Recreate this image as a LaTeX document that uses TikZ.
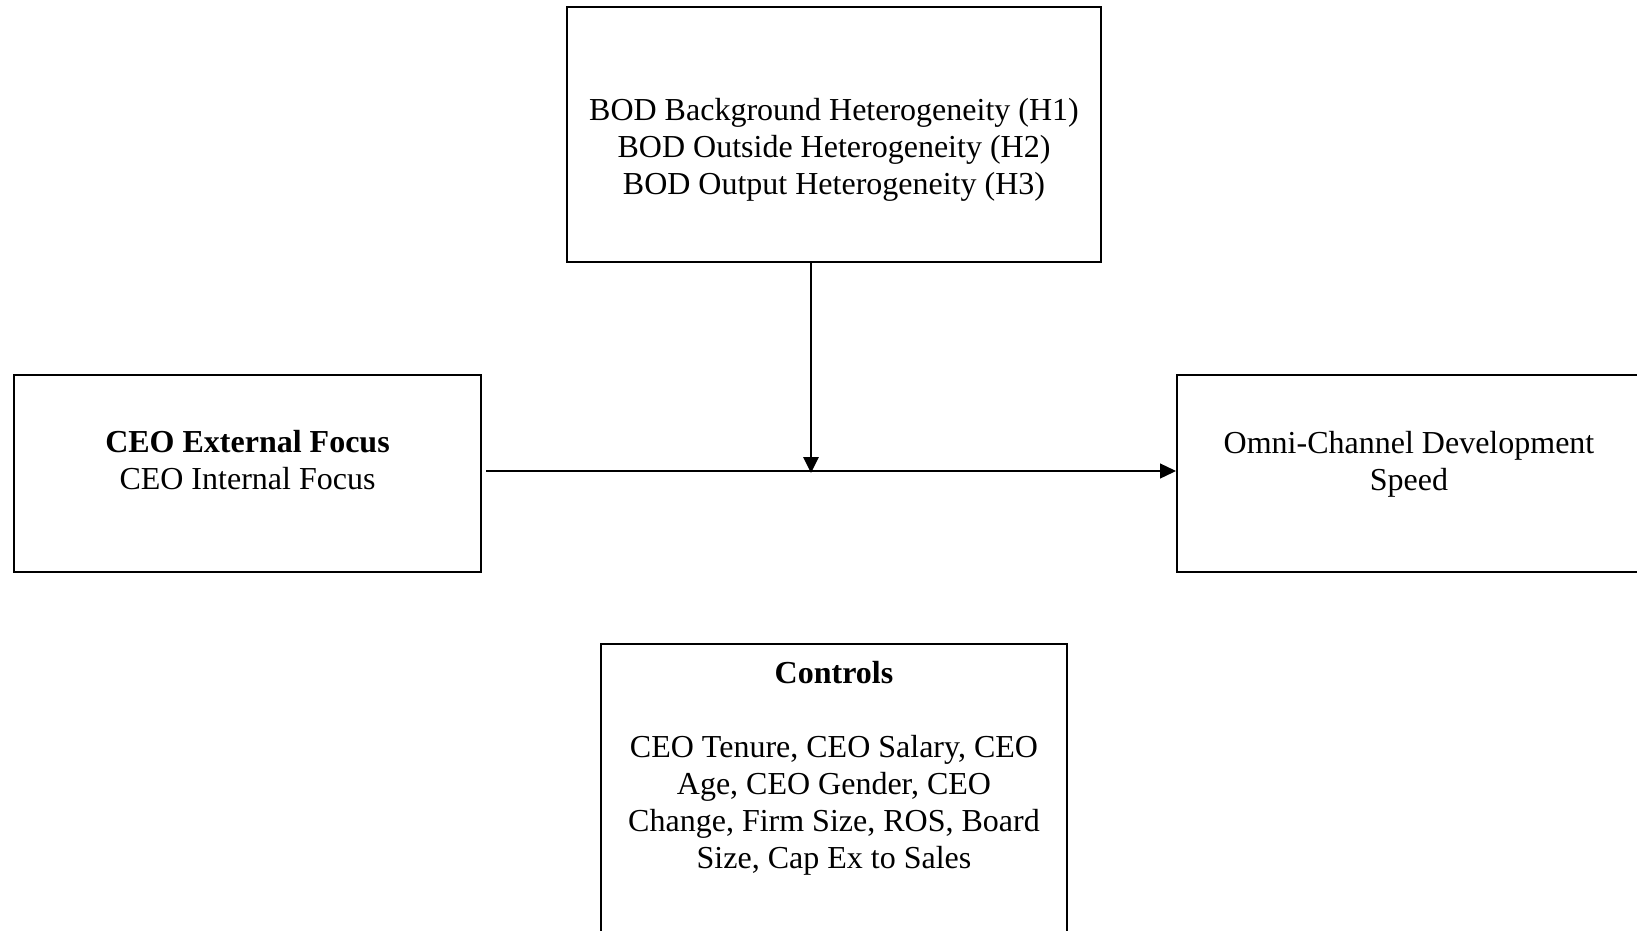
\documentclass[tikz,border=0pt]{standalone}
\usepackage{fontspec}
\setmainfont{Liberation Serif}
\usetikzlibrary{arrows.meta}
\begin{document}
\begin{tikzpicture}[x=1pt,y=-1pt,
  boxstyle/.style={draw=black,line width=2pt,rectangle,inner sep=0pt},
  txt/.style={align=center,font=\fontsize{32}{37}\selectfont,inner sep=0pt},
  conn/.style={-{Triangle[length=16pt,width=15pt]}}]
\useasboundingbox (0,0) rectangle (1637,930);
\fill[white] (0,0) rectangle (1637,930);
% boxes
\node[boxstyle,minimum width=534pt,minimum height=255pt] (bod) at (834,134.5) {};
\node[boxstyle,minimum width=467pt,minimum height=197pt] (ceo) at (247.5,473.5) {};
\node[boxstyle,minimum width=464pt,minimum height=197pt] (omni) at (1409,473.5) {};
\node[boxstyle,minimum width=466pt,minimum height=340pt] (ctrl) at (834,814) {};
% texts
\node[txt] (bodt) at (834,150) {BOD Background Heterogeneity (H1)\\BOD Outside Heterogeneity (H2)\\BOD Output Heterogeneity (H3)};
\node[txt] (ceot) at (247.5,460) {\textbf{CEO External Focus}\\CEO Internal Focus};
\node[txt] (omnit) at (1409,464) {Omni-Channel Development\\Speed};
\node[txt] (ctrlt) at (834,768.5) {\textbf{Controls}\\[37pt]CEO Tenure, CEO Salary, CEO\\Age, CEO Gender, CEO\\Change, Firm Size, ROS, Board\\Size, Cap Ex to Sales};
% connectors
\coordinate (hstart) at (486,471);
\coordinate (mid) at (811,473);
\draw[conn,line width=1.3pt] (hstart) -- (omni.west |- hstart);
\draw[conn,line width=2.8pt] (bod.south -| mid) -- (mid);
\end{tikzpicture}
\end{document}
